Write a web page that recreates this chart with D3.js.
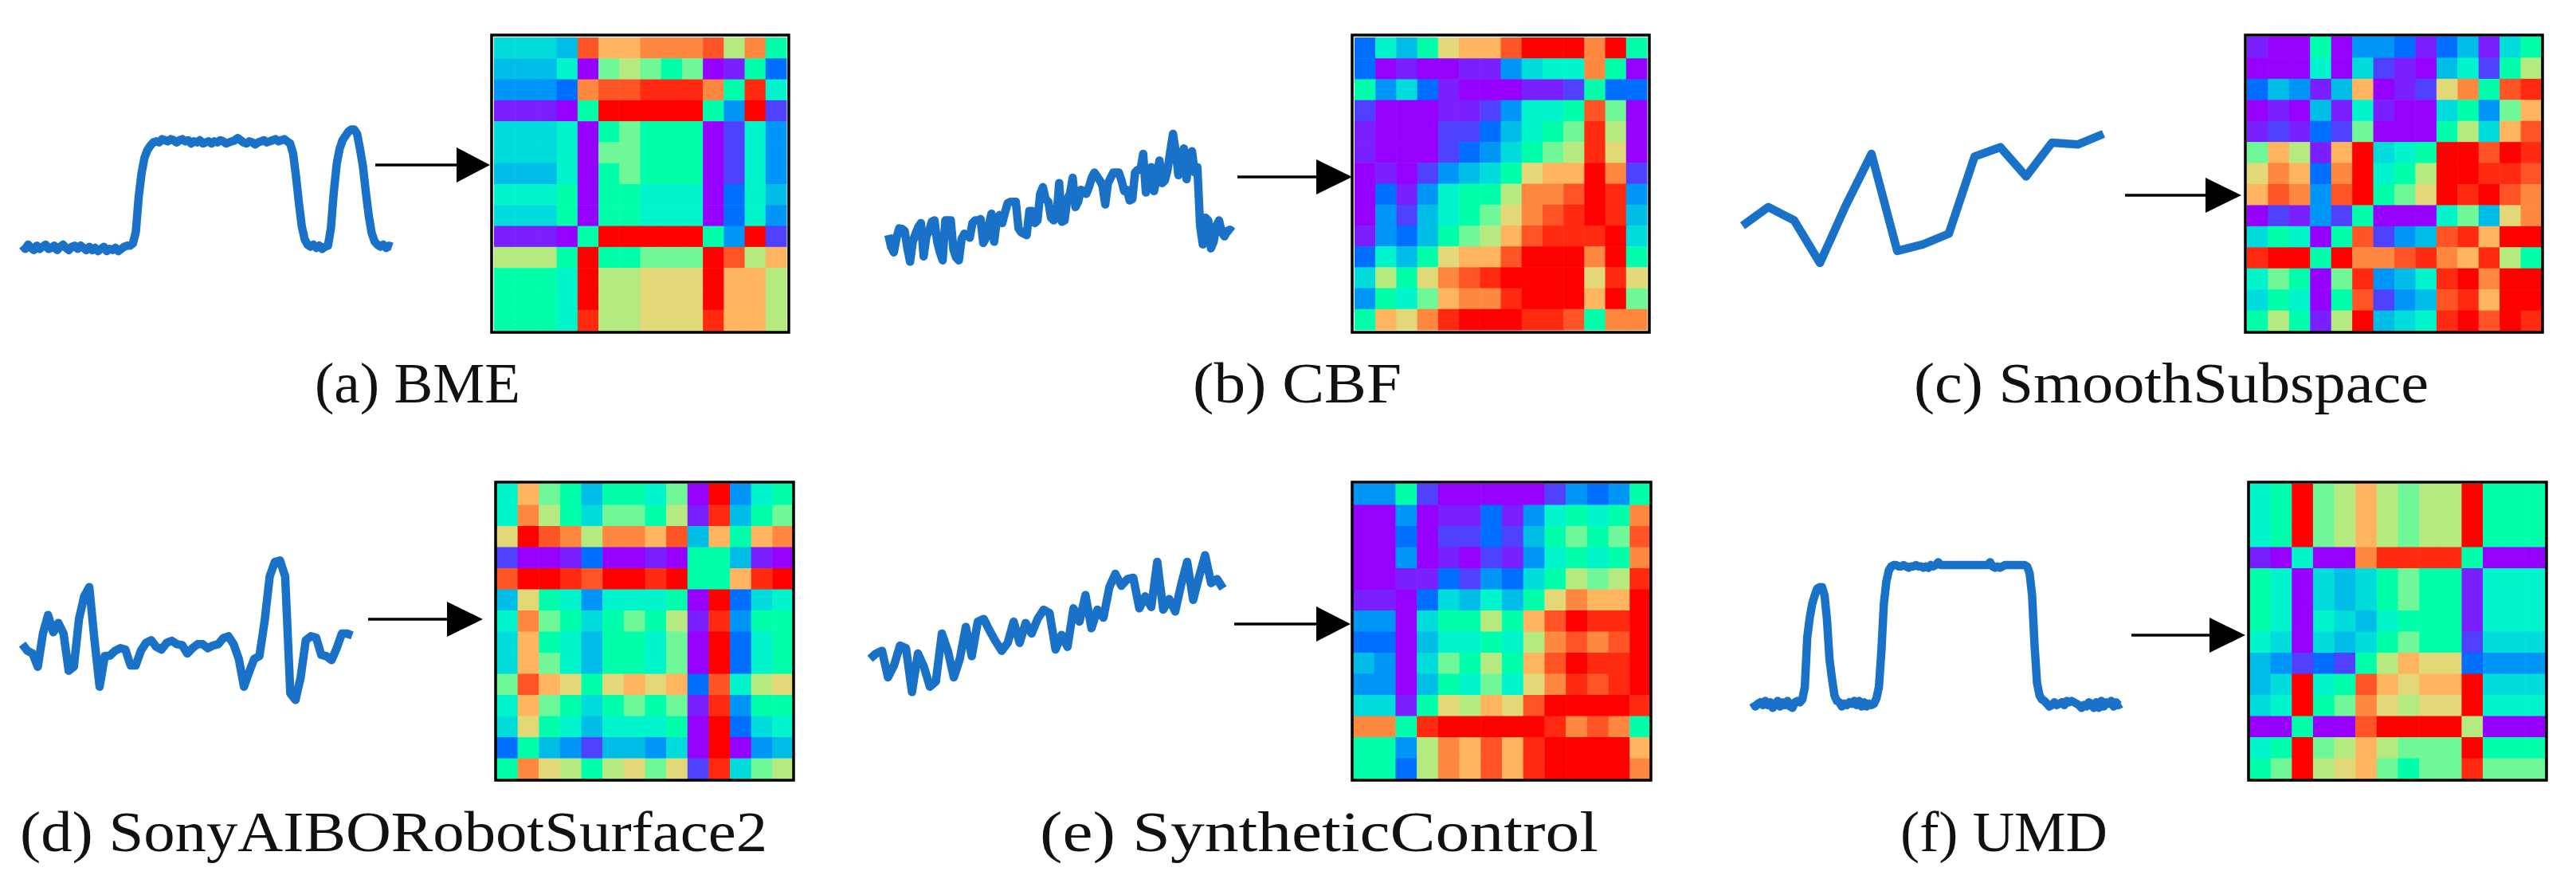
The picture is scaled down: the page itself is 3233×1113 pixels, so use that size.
<!DOCTYPE html>
<html>
<head>
<meta charset="utf-8">
<title>Time series to matrix panels</title>
<script src="https://cdn.jsdelivr.net/npm/d3@7"></script>
<style>
  html, body { margin: 0; padding: 0; background: #fff; }
  svg { display: block; }
  .caption { font-family: "Liberation Serif", serif; fill: #111; }
</style>
</head>
<body>
<div id="chart"></div>
<script>
// Series, one value per time step
const bmeValues = [
  2,-1,3,0,-2,2,-1,1,3,-1,0,2,-2,1,3,0,-2,1,2,-1,2,0,-2,1,-2,0,-3,-1,1,-3,-1,-2,0,-3,-1,1,2,2,
  4,15,48,70,84,91,95,98,99,
  98,101,100,99,101,100,98,100,101,99,100,97,99,98,100,97,98,99,97,99,98,100,99,97,98,99,100,102,100,98,97,99,98,96,98,99,100,98,99,100,101,99,100,101,99,
  97,88,67,42,20,8,3,1,3,0,2,-1,1,
  2,18,52,78,92,100,104,108,110,110,106,92,76,52,30,14,6,3,1,3,0,2,1
];
const cbfValues = [
  1.05,0.6,0.4,0.95,1.3,1.28,1.2,0.55,0.05,0.8,1.1,1.35,1.5,0.25,1.0,1.2,1.55,1.6,0.8,0.4,
  0.1,1.6,1.6,1.6,0.5,0.2,0.1,0.9,1.1,1.05,0.95,1.5,1.6,1.6,1.65,0.75,0.95,1.4,1.85,0.8,
  1.6,1.8,1.5,1.9,2.25,2.3,2.3,2.3,1.3,1.15,1.1,1.05,1.95,1.95,1.5,1.6,2.6,2.85,2.4,2.3,
  1.7,1.6,1.7,3.0,1.55,1.6,2.4,2.6,3.2,2.1,2.3,2.75,2.7,2.6,2.85,3.2,3.4,3.25,3.1,2.9,
  2.2,3.0,3.2,3.4,3.4,3.4,3.1,2.7,2.75,2.35,2.4,3.4,3.5,3.5,4.1,2.65,3.3,3.6,2.7,3.2,
  3.85,3.0,3.1,3.5,4.2,4.85,4.2,3.3,3.9,4.3,3.15,4.0,4.2,3.4,3.6,1.4,0.7,1.7,1.6,0.55,
  0.8,1.4,1.6,1.15,1.0,1.2,1.25,1.17
];
const smoothValues = [1.7,2.4,1.9,0.3,2.45,4.4,0.75,1.0,1.4,4.3,4.65,3.55,4.82,4.75,5.15];
const sonyValues = [
  2.75,2.5,2.4,1.9,3.15,3.85,3.2,3.55,3.15,1.75,1.9,3.7,4.55,4.9,2.9,1.15,2.3,2.32,2.5,2.6,
  2.55,1.95,1.95,2.5,2.8,2.9,2.65,2.55,2.8,2.88,2.75,2.72,2.4,2.6,2.75,2.75,2.6,2.7,2.75,2.98,
  3.05,2.75,2.2,1.15,1.7,2.2,2.3,3.6,5.3,5.85,5.9,5.3,0.9,0.65,1.5,2.9,3.05,3.0,2.35,2.3,
  2.15,2.6,3.15,3.15,3.08
];
const syntheticValues = [
  1.6,1.8,1.9,0.9,1.35,2.1,2.0,0.35,1.8,1.3,0.55,0.75,2.55,1.9,0.9,1.6,2.8,1.7,3.0,3.1,
  2.65,2.25,1.9,2.2,3.0,2.2,2.95,2.55,3.1,3.45,3.32,1.95,2.5,2.05,3.5,3.0,4.0,2.75,3.45,3.15,
  4.3,4.8,4.35,4.6,4.65,3.5,3.95,3.55,5.25,3.45,3.85,3.38,4.4,5.25,3.82,4.7,5.5,4.45,4.6,4.25
];
const umdValues = [
  1,-2,0,1,-1,2,-1,1,-3,0,2,-2,1,-1,2,-2,-3,1,2,1,3,
  12,48,62,72,78,83,84,84,78,60,32,18,6,2,1,-2,0,
  -1,1,0,2,-1,2,-2,1,-2,0,-1,0,4,12,38,72,88,96,99,100,
  100,99,99,100,99,98,99,99,100,99,99,98,99,98,100,99,100,102,100,100,
  100,100,100,100,100,100,100,100,100,100,100,100,100,100,100,100,100,100,102,99,
  98,99,98,99,100,100,100,100,100,100,100,100,100,
  99,94,78,42,15,6,3,2,
  0,-2,-1,1,-1,0,1,-1,2,1,2,1,0,-1,-3,-1,-2,1,0,-3,1,-3,2,-2,1,0,2,-2,1,-1,0
];

// Matrices, 0 (lowest, purple) to 16 (highest, red)
const bmeMatrix = [
  [6,6,6,5,14,12,12,13,13,13,14,10,13,8],
  [5,5,5,7,0,9,10,9,8,9,0,1,8,3],
  [4,4,4,3,13,14,14,15,15,15,13,8,15,7],
  [1,1,1,0,8,16,16,16,16,16,8,4,16,2],
  [6,6,6,7,0,8,9,8,8,8,0,2,7,4],
  [6,6,6,7,0,9,9,8,8,8,0,2,7,4],
  [5,5,5,7,0,8,9,8,8,8,0,2,7,4],
  [7,7,7,8,0,8,8,7,7,7,0,3,7,5],
  [6,6,6,8,0,8,8,7,7,7,0,3,7,4],
  [1,1,1,0,8,16,16,16,16,16,8,4,16,2],
  [10,10,10,8,16,8,8,9,9,9,16,14,10,12],
  [8,8,8,7,16,10,10,11,11,11,16,12,12,10],
  [8,8,8,7,16,10,10,11,11,11,16,12,12,10],
  [8,8,8,7,15,10,10,11,11,11,15,12,12,10]
];
const cbfMatrix = [
  [3,7,5,8,11,12,12,14,16,16,16,13,16,8],
  [3,0,1,0,0,1,1,4,6,7,7,13,8,0],
  [8,4,6,3,1,0,0,0,1,1,2,8,3,3],
  [2,0,0,0,1,1,2,4,7,7,8,14,9,0],
  [1,0,0,0,2,2,3,5,7,8,9,15,10,0],
  [1,0,0,0,2,3,4,6,8,9,10,15,11,0],
  [0,1,0,2,4,5,6,8,11,12,12,16,13,2],
  [0,3,1,4,7,8,8,10,13,13,14,16,15,4],
  [0,4,2,5,7,8,9,11,13,14,15,16,15,5],
  [1,4,3,5,8,9,10,12,14,15,15,15,16,6],
  [3,7,5,8,11,12,12,14,16,16,16,13,16,8],
  [6,10,8,11,13,14,15,16,16,16,16,11,15,11],
  [4,8,7,9,12,13,13,15,16,16,16,12,16,9],
  [8,12,11,13,15,16,16,16,15,15,14,8,13,13]
];
const smoothMatrix = [
  [1,0,0,8,0,4,4,3,1,3,5,1,6,8],
  [0,0,0,7,0,6,2,1,0,5,7,2,8,10],
  [3,5,4,1,5,12,0,1,2,11,13,8,14,15],
  [0,1,0,5,1,7,1,0,0,6,8,4,9,12],
  [1,2,1,3,2,9,0,0,0,8,10,6,12,14],
  [9,12,10,1,12,16,6,7,8,16,16,14,16,15],
  [11,13,12,3,13,16,7,8,10,16,16,15,15,14],
  [12,14,13,4,14,16,8,9,11,16,15,16,14,13],
  [0,2,1,4,2,8,0,0,0,7,9,5,11,13],
  [6,8,7,0,8,14,2,4,5,14,15,12,16,16],
  [15,16,16,8,16,13,13,14,15,13,12,15,10,8],
  [7,9,8,0,9,15,4,5,7,15,16,13,16,16],
  [6,8,7,0,8,14,2,4,5,14,15,12,16,16],
  [8,10,8,1,10,16,5,6,7,15,16,14,16,15]
];
const sonyMatrix = [
  [7,12,9,8,5,8,8,7,9,0,16,4,7,8],
  [7,13,10,8,6,9,9,8,10,1,15,5,8,9],
  [11,16,14,13,10,13,13,12,14,5,12,8,12,13],
  [2,0,0,1,3,0,0,1,0,8,8,5,1,0],
  [14,16,16,15,14,16,16,15,16,8,8,12,15,16],
  [5,11,8,7,4,7,7,7,8,0,16,3,6,7],
  [7,13,9,8,6,8,9,8,10,1,15,4,8,8],
  [6,12,8,7,5,8,8,7,9,0,16,3,7,8],
  [6,12,9,7,5,8,8,7,9,0,16,3,7,8],
  [9,14,12,11,8,11,12,11,12,3,14,7,10,11],
  [7,12,9,8,6,8,9,8,9,1,15,4,8,8],
  [6,11,8,7,5,7,7,7,8,0,16,3,6,7],
  [3,8,5,4,2,5,5,4,6,0,16,0,4,5],
  [8,13,11,10,8,10,11,9,11,2,15,6,9,10]
];
const syntheticMatrix = [
  [4,4,8,2,0,0,0,0,0,2,4,3,4,8],
  [0,0,4,0,1,1,3,1,4,7,8,7,8,13],
  [0,0,3,0,2,2,3,2,5,8,9,8,9,14],
  [0,0,4,0,1,0,2,1,4,7,8,7,8,13],
  [0,0,1,1,3,2,4,3,6,8,10,9,10,15],
  [1,1,0,3,6,5,7,5,8,11,13,12,12,16],
  [4,4,0,6,8,8,10,8,12,14,16,15,15,16],
  [3,3,0,5,7,7,8,7,10,13,14,13,14,16],
  [5,4,0,6,9,8,10,8,12,14,16,15,15,16],
  [4,4,0,5,8,7,9,7,11,13,15,14,15,16],
  [6,6,1,8,11,10,12,11,14,16,16,16,16,15],
  [13,13,8,15,16,16,16,16,16,15,13,14,13,8],
  [8,8,4,10,13,12,14,12,15,16,16,16,16,12],
  [8,8,3,10,13,12,14,12,15,16,16,16,16,13]
];
const umdMatrix = [
  [7,8,16,9,10,12,10,9,10,10,16,8,8,8],
  [7,8,16,9,10,12,10,9,10,10,16,8,8,8],
  [7,8,16,9,10,12,10,9,10,10,16,8,8,8],
  [1,0,7,0,0,13,15,15,15,15,8,0,0,0],
  [8,7,0,6,5,6,8,9,8,8,1,7,7,7],
  [8,7,0,6,5,6,8,9,8,8,1,7,7,7],
  [8,7,0,7,6,5,7,8,8,8,1,7,7,7],
  [7,6,0,6,5,6,8,9,8,8,2,6,6,6],
  [5,4,2,3,2,8,10,12,11,11,3,4,4,4],
  [5,6,16,7,8,14,12,11,12,12,16,6,6,6],
  [6,7,16,8,9,13,11,10,11,11,16,7,7,7],
  [0,0,8,0,0,14,16,16,16,16,10,0,0,0],
  [7,8,16,9,10,12,10,9,9,9,16,8,8,8],
  [8,9,16,10,11,12,9,8,9,9,15,9,9,9]
];

const captions = [
  "(a) BME",
  "(b) CBF",
  "(c) SmoothSubspace",
  "(d) SonyAIBORobotSurface2",
  "(e) SyntheticControl",
  "(f) UMD"
];

const levelColors = [
  "#9500ff","#7a1fff","#5040ff","#006eff","#0096f8","#00bde8","#00dcdc","#00f5cc","#00ffaa",
  "#70f898","#b4ea80","#e2d878","#ffb45f","#ff8840","#ff5526","#ff2a10","#ff0000"
];

// Layout of the six panels, in page pixels
const layout = [
  { values: bmeValues, matrix: bmeMatrix, domain: [0, 100],
    line: [28, 492, 311, 176], cells: [620, 987, 47, 415], frame: [617, 990, 44, 417],
    arrow: [471, 573, 615, 207], text: [395, 653, 505] },
  { values: cbfValues, matrix: cbfMatrix, domain: [0, 5],
    line: [1115, 1547, 330, 163], cells: [1700, 2067, 47, 414], frame: [1697, 2070, 44, 417],
    arrow: [1553, 1652, 1697, 222], text: [1497, 1759, 505] },
  { values: smoothValues, matrix: smoothMatrix, domain: [0, 5],
    line: [2187, 2640, 340, 173], cells: [2820, 3190, 46, 416], frame: [2818, 3191, 44, 417],
    arrow: [2667, 2768, 2813, 245], text: [2402, 3048, 505] },
  { values: sonyValues, matrix: sonyMatrix, domain: [0, 6],
    line: [28, 442, 900, 700], cells: [623, 996, 607, 978], frame: [622, 996, 605, 979],
    arrow: [462, 561, 606, 777], text: [25, 963, 1068] },
  { values: syntheticValues, matrix: syntheticMatrix, domain: [0, 6],
    line: [1092, 1535, 880, 680], cells: [1698, 2072, 607, 978], frame: [1697, 2072, 605, 979],
    arrow: [1549, 1652, 1695, 783], text: [1305, 2006, 1068] },
  { values: umdValues, matrix: umdMatrix, domain: [0, 100],
    line: [2200, 2662, 883, 709], cells: [2823, 3196, 607, 978], frame: [2822, 3196, 605, 979],
    arrow: [2675, 2773, 2818, 797], text: [2385, 2645, 1068] }
];

const svg = d3.select("#chart").append("svg")
  .attr("width", 3233)
  .attr("height", 1113);

const color = d3.scaleLinear()
  .domain(levelColors.map((c, i) => i))
  .range(levelColors);

layout.forEach((panel, p) => {
  const g = svg.append("g");

  // Time series
  const xScale = d3.scaleLinear()
    .domain([0, panel.values.length - 1])
    .range([panel.line[0], panel.line[1]]);
  const yScale = d3.scaleLinear()
    .domain(panel.domain)
    .range([panel.line[2], panel.line[3]]);
  const lineGen = d3.line()
    .x((d, i) => xScale(i))
    .y(d => yScale(d));

  g.append("path")
    .datum(panel.values)
    .attr("d", lineGen)
    .attr("fill", "none")
    .attr("stroke", "#1a72c8")
    .attr("stroke-width", 10.5)
    .attr("stroke-linejoin", "round");

  // Arrow from the series to the matrix
  const [x0, x1, tip, y] = panel.arrow;
  g.append("line")
    .attr("x1", x0).attr("x2", x1 + 2)
    .attr("y1", y).attr("y2", y)
    .attr("stroke", "#000")
    .attr("stroke-width", 3.5);
  g.append("path")
    .attr("d", `M${x1},${y - 22}L${tip},${y}L${x1},${y + 22}Z`)
    .attr("fill", "#000");

  // Matrix
  const order = d3.range(panel.matrix.length);
  const colScale = d3.scaleBand().domain(order).range([panel.cells[0], panel.cells[1]]);
  const rowScale = d3.scaleBand().domain(order).range([panel.cells[2], panel.cells[3]]);

  g.selectAll("g.row")
    .data(panel.matrix)
    .enter()
    .append("g")
    .attr("class", "row")
    .selectAll("rect")
    .data((row, r) => row.map((v, c) => ({ r, c, v })))
    .enter()
    .append("rect")
    .attr("x", d => colScale(d.c))
    .attr("y", d => rowScale(d.r))
    .attr("width", colScale.bandwidth() + 0.5)
    .attr("height", rowScale.bandwidth() + 0.5)
    .attr("fill", d => color(d.v));

  g.append("rect")
    .attr("x", panel.frame[0])
    .attr("y", panel.frame[2])
    .attr("width", panel.frame[1] - panel.frame[0])
    .attr("height", panel.frame[3] - panel.frame[2])
    .attr("fill", "none")
    .attr("stroke", "#000")
    .attr("stroke-width", 3.5);

  // Caption
  g.append("text")
    .attr("class", "caption")
    .attr("x", panel.text[0])
    .attr("y", panel.text[2])
    .attr("font-size", 72)
    .attr("textLength", panel.text[1] - panel.text[0])
    .attr("lengthAdjust", "spacingAndGlyphs")
    .text(captions[p]);
});
</script>
</body>
</html>
